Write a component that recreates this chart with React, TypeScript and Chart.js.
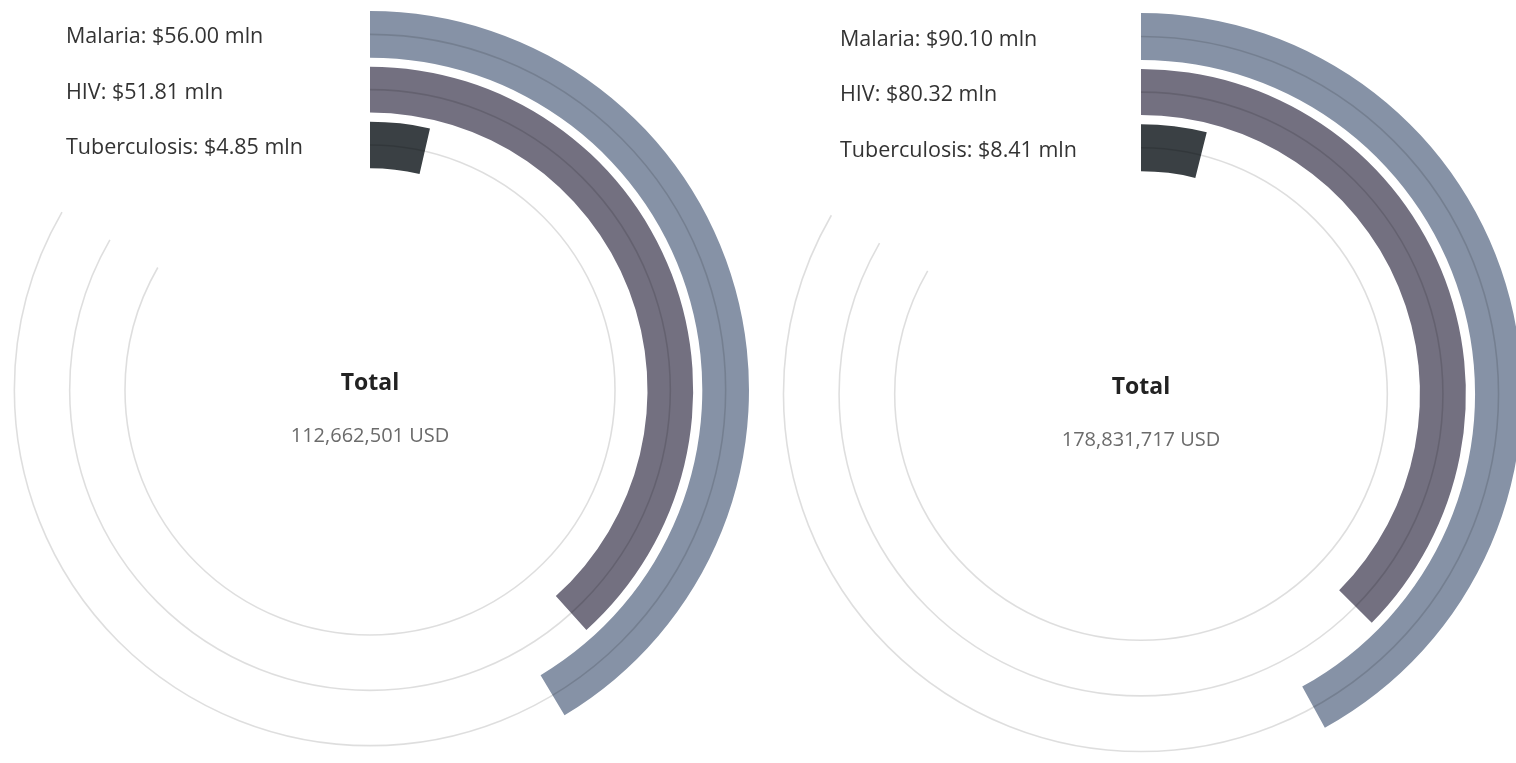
import React, { useEffect, useRef } from "react";
import { Chart, registerables } from "chart.js";

Chart.register(...registerables);

const categories = ["Malaria", "HIV", "Tuberculosis"];
const leftValues = [56.0, 51.81, 4.85];
const rightValues = [90.1, 80.32, 8.41];
const totals = [112662501, 178831717];
const totalLabels = ["112,662,501 USD", "178,831,717 USD"];
const colors = ["#8692A6", "#737080", "#3A4044"];

const FONT = "'Open Sans', Lato, sans-serif";
const SWEEP = 300;

type Spec = { values: number[]; total: number; totalLabel: string; cx: number; cy: number; R: number; labelDx: number };

const specs: Spec[] = [
  { values: leftValues, total: totals[0], totalLabel: totalLabels[0], cx: 370, cy: 390, R: 379, labelDx: 304 },
  { values: rightValues, total: totals[1], totalLabel: totalLabels[1], cx: 1141, cy: 394, R: 381, labelDx: 301 },
];

function Ring({ spec }: { spec: Spec }) {
  const ref = useRef<HTMLCanvasElement | null>(null);
  const pad = 4;
  const size = 2 * (spec.R + pad);
  useEffect(() => {
    if (!ref.current) return;
    const totalMln = spec.total / 1e6;
    const ringDatasets: any[] = [];
    const seriesIdx: number[] = [];
    const ringWeights = [46, 45, 46];
    spec.values.forEach((v, i) => {
      if (i > 0) {
        ringDatasets.push({ data: [1], backgroundColor: ["rgba(0,0,0,0)"], weight: 9, borderWidth: 0 });
      }
      seriesIdx.push(ringDatasets.length);
      ringDatasets.push({
        label: categories[i],
        data: [v, totalMln - v],
        backgroundColor: [colors[i], "rgba(0,0,0,0)"],
        borderWidth: 0,
        weight: ringWeights[i],
      });
    });
    const overlay = {
      id: "overlay",
      afterDatasetsDraw(chart: any) {
        const ctx = chart.ctx;
        ctx.save();
        seriesIdx.forEach((di, i) => {
          const arc = chart.getDatasetMeta(di).data[0];
          const mid = (arc.innerRadius + arc.outerRadius) / 2;
          ctx.beginPath();
          ctx.strokeStyle = "rgba(0,0,0,0.13)";
          ctx.lineWidth = 1.6;
          ctx.arc(arc.x, arc.y, mid, -Math.PI / 2, -Math.PI / 2 + (SWEEP * Math.PI) / 180);
          ctx.stroke();
          ctx.fillStyle = "#333";
          ctx.font = `500 21.5px ${FONT}`;
          ctx.textAlign = "left";
          ctx.textBaseline = "middle";
          ctx.fillText(`${categories[i]}: $${spec.values[i].toFixed(2)} mln`, arc.x - spec.labelDx, arc.y - mid + 3);
        });
        const arc0 = chart.getDatasetMeta(seriesIdx[0]).data[0];
        ctx.textAlign = "center";
        ctx.textBaseline = "middle";
        ctx.fillStyle = "#222";
        ctx.font = `bold 23px ${FONT}`;
        ctx.fillText("Total", arc0.x, arc0.y - 7);
        ctx.fillStyle = "#6b6b6b";
        ctx.font = `20px ${FONT}`;
        ctx.fillText(spec.totalLabel, arc0.x, arc0.y + 46);
        ctx.restore();
      },
    };
    const chart = new Chart(ref.current, {
      type: "doughnut",
      data: { labels: ["value", "rest"], datasets: ringDatasets },
      options: {
        responsive: false,
        animation: false,
        events: [],
        rotation: 0,
        circumference: SWEEP,
        radius: spec.R,
        cutout: (spec.R * 224) / 379,
        layout: { padding: 0 },
        elements: { arc: { borderWidth: 0, offset: 0, hoverOffset: 0 } as any },
        plugins: { legend: { display: false }, tooltip: { enabled: false }, title: { display: false } },
      } as any,
      plugins: [overlay],
    });
    return () => chart.destroy();
  }, []);
  return (
    <canvas
      ref={ref}
      width={size}
      height={size}
      style={{ position: "absolute", left: spec.cx - spec.R - pad, top: spec.cy - spec.R - pad, width: size, height: size }}
    />
  );
}

export default function App() {
  return (
    <div style={{ position: "fixed", left: 0, top: 0, width: 1516, height: 763, overflow: "hidden", background: "#fff" }}>
      {specs.map((s, i) => (
        <Ring key={i} spec={s} />
      ))}
    </div>
  );
}
